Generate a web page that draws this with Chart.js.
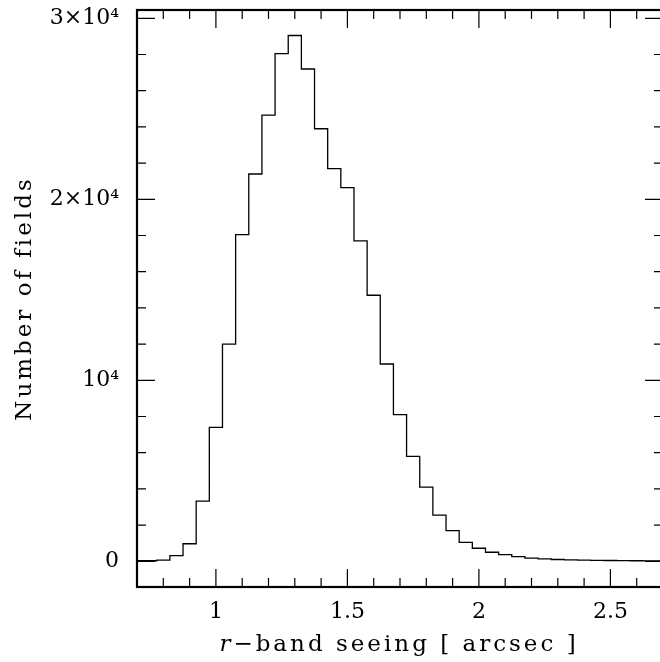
<!DOCTYPE html>
<html><head><meta charset="utf-8">
<script src="https://cdn.jsdelivr.net/npm/chart.js@4/dist/chart.umd.min.js"></script>
<style>html,body{margin:0;padding:0;background:#fff;overflow:hidden}#wrap{width:668px;height:662px}</style>
</head><body><div id="wrap"><canvas id="c" width="668" height="662"></canvas></div>
<script>
// Histogram bin centres (arcsec) and number of fields per 0.05" bin
const binCenters = [0.70,0.75,0.80,0.85,0.90,0.95,1.00,1.05,1.10,1.15,1.20,1.25,1.30,1.35,1.40,1.45,1.50,1.55,1.60,1.65,1.70,1.75,1.80,1.85,1.90,1.95,2.00,2.05,2.10,2.15,2.20,2.25,2.30,2.35,2.40,2.45,2.50,2.55,2.60,2.65,2.70];
const fieldCounts = [30,30,70,310,970,3330,7400,12000,18050,21400,24650,28050,29050,27200,23900,21700,20650,17700,14700,10900,8100,5800,4100,2550,1700,1050,720,500,370,260,180,130,100,80,65,55,45,38,30,25,20];

const xTickValues = [1, 1.5, 2, 2.5];
const xTickLabels = ['1', '1.5', '2', '2.5'];
const xMinorTicks = [0.8,0.9,1.1,1.2,1.3,1.4,1.6,1.7,1.8,1.9,2.1,2.2,2.3,2.4,2.6];
const yTickValues = [0, 10000, 20000, 30000];
const yTickLabels = ['0', '10⁴', '2×10⁴', '3×10⁴'];
const yMinorTicks = [2000,4000,6000,8000,12000,14000,16000,18000,22000,24000,26000,28000];

const xTitleItalic = 'r';
const xTitleRest = '−band seeing [ arcsec ]';
const yTitle = 'Number of fields';

const FONT = "'DejaVu Serif', serif";

const framePlugin = {
  id: 'frame',
  afterDraw(chart) {
    const {ctx, chartArea: a, scales: {x, y}} = chart;
    ctx.save();
    ctx.strokeStyle = '#000';
    ctx.lineWidth = 1.2;
    const MAJ = 18, MIN = 9;
    ctx.beginPath();
    const xt = (v, len) => { const p = x.getPixelForValue(v);
      ctx.moveTo(p, a.bottom); ctx.lineTo(p, a.bottom - len);
      ctx.moveTo(p, a.top); ctx.lineTo(p, a.top + len); };
    const yt = (v, len) => { const p = y.getPixelForValue(v);
      ctx.moveTo(a.left, p); ctx.lineTo(a.left + len, p);
      ctx.moveTo(a.right, p); ctx.lineTo(a.right - len, p); };
    xTickValues.forEach(v => xt(v, MAJ));
    xMinorTicks.forEach(v => xt(v, MIN));
    yTickValues.forEach(v => yt(v, MAJ));
    yMinorTicks.forEach(v => yt(v, MIN));
    ctx.stroke();
    ctx.lineWidth = 2.2;
    ctx.strokeRect(a.left, a.top, a.right - a.left, a.bottom - a.top);

    // axis titles
    ctx.fillStyle = '#000';
    ctx.textBaseline = 'alphabetic';
    try { ctx.letterSpacing = '3px'; } catch (e) {}
    ctx.font = 'italic 23px ' + FONT;
    const w1 = ctx.measureText(xTitleItalic).width;
    ctx.font = '23px ' + FONT;
    const w2 = ctx.measureText(xTitleRest).width;
    const cx = 399;
    let sx = cx - (w1 + w2) / 2;
    ctx.textAlign = 'left';
    ctx.font = 'italic 23px ' + FONT;
    ctx.fillText(xTitleItalic, sx, 651);
    ctx.font = '23px ' + FONT;
    ctx.fillText(xTitleRest, sx + w1, 651);

    ctx.translate(31, (a.top + a.bottom) / 2);
    ctx.rotate(-Math.PI / 2);
    ctx.textAlign = 'center';
    ctx.fillText(yTitle, 0, 0);
    ctx.restore();
  }
};

new Chart(document.getElementById('c'), {
  type: 'line',
  data: {
    datasets: [{
      data: binCenters.map((c, i) => ({x: c, y: fieldCounts[i]})),
      stepped: 'middle',
      borderColor: '#000',
      borderWidth: 1.3,
      pointRadius: 0,
      fill: false
    }]
  },
  options: {
    responsive: false,
    devicePixelRatio: 1,
    animation: false,
    layout: {padding: {top: 10, right: 5, left: 0, bottom: 0}},
    plugins: {legend: {display: false}, tooltip: {enabled: false}},
    scales: {
      x: {
        type: 'linear', min: 0.7, max: 2.7,
        grid: {display: false, drawTicks: false},
        border: {display: false},
        afterBuildTicks: s => { s.ticks = xTickValues.map(v => ({value: v})); },
        afterFit: s => { s.height = 75; s.paddingLeft = 0; s.paddingRight = 0; },
        ticks: {
          font: {family: FONT, size: 22}, color: '#000', padding: 12,
          maxRotation: 0, autoSkip: false,
          callback: (v, i) => xTickLabels[i]
        }
      },
      y: {
        type: 'linear', min: -1420, max: 30460,
        grid: {display: false, drawTicks: false},
        border: {display: false},
        afterBuildTicks: s => { s.ticks = yTickValues.map(v => ({value: v})); },
        afterFit: s => { s.width = 137; s.paddingTop = 0; s.paddingBottom = 0; },
        ticks: {
          font: {family: FONT, size: 22}, color: '#000', padding: 18,
          autoSkip: false,
          callback: (v, i) => yTickLabels[i]
        }
      }
    }
  },
  plugins: [framePlugin]
});
</script>
</body></html>
